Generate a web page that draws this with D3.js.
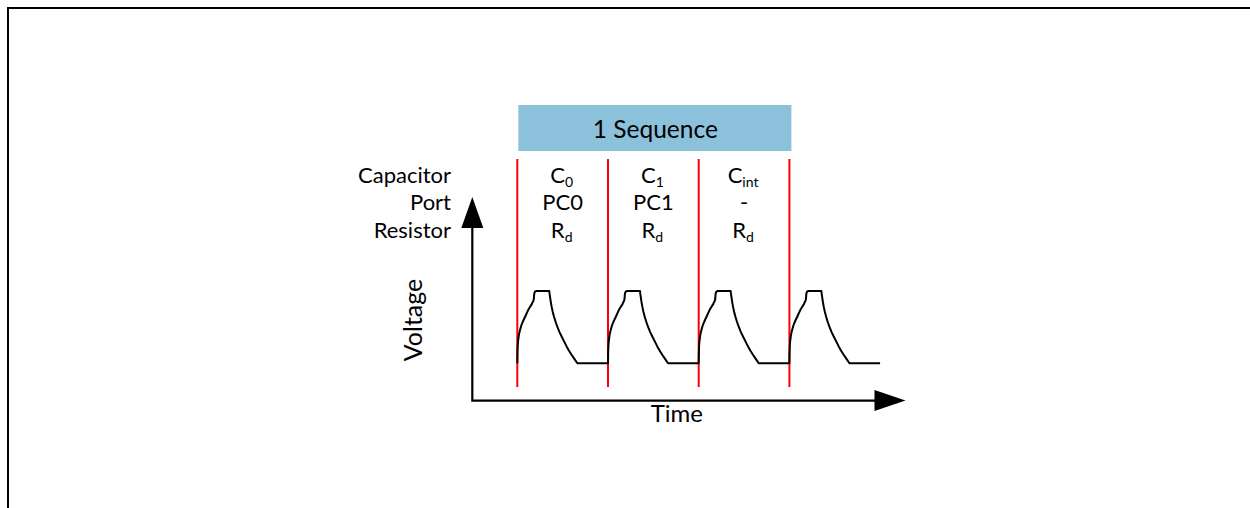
<!DOCTYPE html>
<html>
<head>
<meta charset="utf-8">
<script src="https://cdn.jsdelivr.net/npm/d3@7"></script>
<style>
  html, body { margin: 0; padding: 0; background: #ffffff; }
  svg { display: block; }
  text { font-family: Lato, "Open Sans", sans-serif; fill: #000; }
</style>
</head>
<body>
<svg id="chart" width="1250" height="508"></svg>
<script>
// ---- data ----
const sequenceLabel = "1 Sequence";
const rowLabels = ["Capacitor", "Port", "Resistor"];
// column labels: [main, subscript]
const capacitorLabels = [["C", "0"], ["C", "1"], ["C", "int"]];
const portLabels = ["PC0", "PC1", "-"];
const resistorLabels = [["R", "d"], ["R", "d"], ["R", "d"]];
const xAxisLabel = "Time";
const yAxisLabel = "Voltage";
// start times of each measurement (period units)
const markerTimes = [0, 1, 2, 3];
const pulseStarts = [0, 1, 2, 3];
// one charge/discharge pulse, time offset within period and normalised voltage
const pulseT = [0, 0.001, 0.002, 0.004, 0.008, 0.015, 0.022, 0.030, 0.040, 0.052, 0.068, 0.085, 0.103, 0.121, 0.140, 0.159, 0.165,
                0.172, 0.179, 0.183, 0.185, 0.188, 0.195, 0.21,
                0.353, 0.356, 0.361, 0.369, 0.379, 0.391, 0.405, 0.422, 0.441, 0.464, 0.49, 0.517, 0.545, 0.572, 0.6, 0.631, 0.662, 1.0];
const pulseV = [0, 0.10, 0.156, 0.23, 0.30, 0.37, 0.42, 0.46, 0.505, 0.55, 0.595, 0.64, 0.69, 0.74, 0.78, 0.815, 0.835,
                0.85, 0.87, 0.90, 0.94, 0.97, 0.99, 1.0,
                1.0, 0.96, 0.92, 0.85, 0.78, 0.71, 0.645, 0.575, 0.506, 0.435, 0.368, 0.30, 0.23, 0.17, 0.115, 0.057, 0, 0];

// ---- layout ----
const svg = d3.select("#chart");
const x = d3.scaleLinear().domain([0, 1]).range([517.3, 608]);
const y = d3.scaleLinear().domain([0, 1]).range([363.3, 291]);
const axisT0 = -0.496, axisTEnd = 4.28, axisV0 = -0.515, axisVEnd = 2.3;
const markerVTop = 2.826, markerVBottom = -0.328;

// frame
svg.append("path")
  .attr("d", "M8,508 V8 H1250")
  .attr("fill", "none").attr("stroke", "#000").attr("stroke-width", 2);

// sequence box
svg.append("rect")
  .attr("x", x(0) + 1).attr("y", 105)
  .attr("width", x(3) - x(0) + 1).attr("height", 46)
  .attr("fill", "#8cc1db");
svg.append("text")
  .attr("x", (x(0) + x(3)) / 2 + 2).attr("y", 138)
  .attr("text-anchor", "middle").attr("font-size", 24.5)
  .text(sequenceLabel);

// row labels
const rowBaselines = [182.5, 210, 237.5];
svg.selectAll("text.row").data(rowLabels).join("text")
  .attr("class", "row")
  .attr("x", 451).attr("y", (d, i) => rowBaselines[i])
  .attr("text-anchor", "end").attr("font-size", 22)
  .text(d => d);

// column labels
const colCenter = i => (x(i) + x(i + 1)) / 2;
function subText(sel, data, baseline) {
  const t = sel.selectAll(null).data(data).join("text")
    .attr("x", (d, i) => colCenter(i) - 1).attr("y", baseline)
    .attr("text-anchor", "middle").attr("font-size", 22);
  t.append("tspan").text(d => d[0]);
  t.append("tspan").attr("font-size", 14).attr("dy", 4).text(d => d[1]);
}
subText(svg, capacitorLabels, 183);
svg.selectAll("text.port").data(portLabels).join("text")
  .attr("class", "port")
  .attr("x", (d, i) => colCenter(i)).attr("y", 210)
  .attr("text-anchor", "middle").attr("font-size", 22)
  .text(d => d);
subText(svg, resistorLabels, 237.5);

// red markers
svg.selectAll("line.marker").data(markerTimes).join("line")
  .attr("class", "marker")
  .attr("x1", d => x(d)).attr("x2", d => x(d))
  .attr("y1", y(markerVTop)).attr("y2", y(markerVBottom))
  .attr("stroke", "#ff0000").attr("stroke-width", 2);

// waveform
const pts = [];
pulseStarts.forEach(s => pulseT.forEach((t, i) => pts.push([s + t, pulseV[i]])));
svg.append("path")
  .datum(pts)
  .attr("d", d3.line().x(d => x(d[0])).y(d => y(d[1])).curve(d3.curveLinear))
  .attr("fill", "none").attr("stroke", "#000").attr("stroke-width", 2)
  .attr("stroke-linejoin", "round");

// axes
const ox = x(axisT0), oy = y(axisV0);
const tipX = x(axisTEnd), tipY = y(axisVEnd);
svg.append("path")
  .attr("d", `M${ox},${tipY + 30} V${oy} H${tipX - 30}`)
  .attr("fill", "none").attr("stroke", "#000").attr("stroke-width", 2.2);
svg.append("path")
  .attr("d", `M${ox},${tipY} L${ox - 11},${tipY + 31} L${ox + 11},${tipY + 31} Z`)
  .attr("fill", "#000");
svg.append("path")
  .attr("d", `M${tipX},${oy} L${tipX - 31},${oy - 10.5} L${tipX - 31},${oy + 10.5} Z`)
  .attr("fill", "#000");

// axis titles
svg.append("text")
  .attr("x", (ox + tipX) / 2 - 12).attr("y", 421.5)
  .attr("text-anchor", "middle").attr("font-size", 24)
  .text(xAxisLabel);
svg.append("text")
  .attr("transform", `translate(422,320) rotate(-90)`)
  .attr("text-anchor", "middle").attr("font-size", 25)
  .text(yAxisLabel);
</script>
</body>
</html>
